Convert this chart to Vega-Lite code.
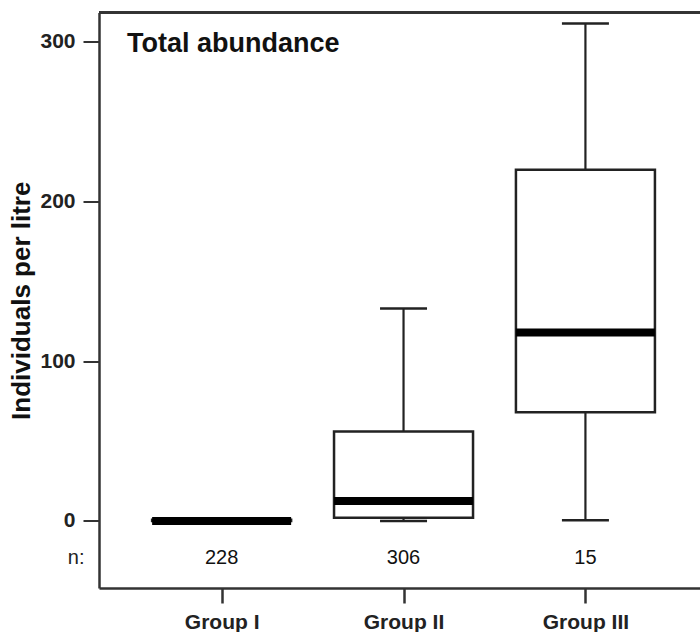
{
  "$schema": "https://vega.github.io/schema/vega-lite/v6.json",
  "width": 601,
  "height": 575.5,
  "autosize": {"type": "none"},
  "padding": {"left": 99, "top": 12.5, "right": 0, "bottom": 44},
  "background": "white",
  "config": {"view": {"stroke": null}, "font": "Liberation Sans"},
  "title": {"text": "Total abundance", "anchor": "start", "frame": "group", "orient": "top", "offset": -39, "dx": 28, "dy": 29, "fontSize": 27, "fontWeight": "bold", "color": "#111", "font": "Liberation Sans", "baseline": "alphabetic"},
  "data": {"values": [
    {"group": "Group I", "min": 0, "q1": 0, "median": 0, "q3": 0.8, "max": 1, "n": "228"},
    {"group": "Group II", "min": 0, "q1": 2, "median": 12.5, "q3": 56, "max": 133, "n": "306"},
    {"group": "Group III", "min": 0.5, "q1": 68, "median": 118, "q3": 220, "max": 311.5, "n": "15"}
  ]},
  "layer": [
    {"mark": {"type": "rule", "color": "#222", "strokeWidth": 2.2},
     "encoding": {
       "x": {"field": "group", "type": "nominal", "sort": null,
         "scale": {"type": "point", "padding": 0.652, "align": 0.517},
         "axis": {"title": null, "labelAngle": 0, "labelFontSize": 21, "labelFontWeight": "bold", "labelColor": "#222", "tickSize": 15, "tickWidth": 2.5, "tickColor": "#333",
           "domainColor": "#333", "domainWidth": 2.5, "labelPadding": 8}},
       "y": {"field": "q3", "type": "quantitative",
         "scale": {"domain": [-42, 318.4], "nice": false, "zero": false},
         "axis": {"values": [0, 100, 200, 300, -23], "title": "Individuals per litre",
           "labelExpr": "datum.value < 0 ? 'n:' : datum.label",
           "grid": false, "tickSize": 16, "tickWidth": 2,
           "tickColor": {"condition": {"test": "datum.value < 0", "value": "transparent"}, "value": "#333"},
           "labelFontWeight": {"condition": {"test": "datum.value < 0", "value": "normal"}, "value": "bold"},
           "labelFontSize": {"condition": {"test": "datum.value < 0", "value": 20}, "value": 21},
           "labelPadding": {"condition": {"test": "datum.value < 0", "value": -1}, "value": 8},
           "labelColor": "#222", "domainColor": "#333", "domainWidth": 2.5,
           "titleFontSize": 26, "titleFontWeight": "bold", "titleColor": "#111", "titlePadding": 5}},
       "y2": {"field": "max"}}},
    {"mark": {"type": "rule", "color": "#333", "strokeWidth": 2.5},
     "encoding": {"y": {"datum": 318.4, "type": "quantitative"}}},
    {"mark": {"type": "rule", "color": "#222", "strokeWidth": 2.2},
     "encoding": {"x": {"field": "group", "type": "nominal", "sort": null}, "y": {"field": "q1", "type": "quantitative"}, "y2": {"field": "min"}}},
    {"mark": {"type": "tick", "size": 47, "thickness": 2.5, "color": "#222", "opacity": 1},
     "encoding": {"x": {"field": "group", "type": "nominal", "sort": null}, "y": {"field": "max", "type": "quantitative"}}},
    {"mark": {"type": "tick", "size": 47, "thickness": 2.5, "color": "#222", "opacity": 1},
     "encoding": {"x": {"field": "group", "type": "nominal", "sort": null}, "y": {"field": "min", "type": "quantitative"}}},
    {"mark": {"type": "bar", "size": 139, "fill": "white", "stroke": "#222", "strokeWidth": 2.5, "orient": "vertical"},
     "encoding": {"x": {"field": "group", "type": "nominal", "sort": null}, "y": {"field": "q1", "type": "quantitative"}, "y2": {"field": "q3"}}},
    {"mark": {"type": "tick", "size": 139, "thickness": 8, "color": "#000", "opacity": 1},
     "encoding": {"x": {"field": "group", "type": "nominal", "sort": null}, "y": {"field": "median", "type": "quantitative"}}},
    {"mark": {"type": "text", "fontSize": 20, "color": "#111", "baseline": "middle", "align": "center"},
     "encoding": {"x": {"field": "group", "type": "nominal", "sort": null}, "y": {"datum": -23, "type": "quantitative"}, "text": {"field": "n"}}}
  ]
}
